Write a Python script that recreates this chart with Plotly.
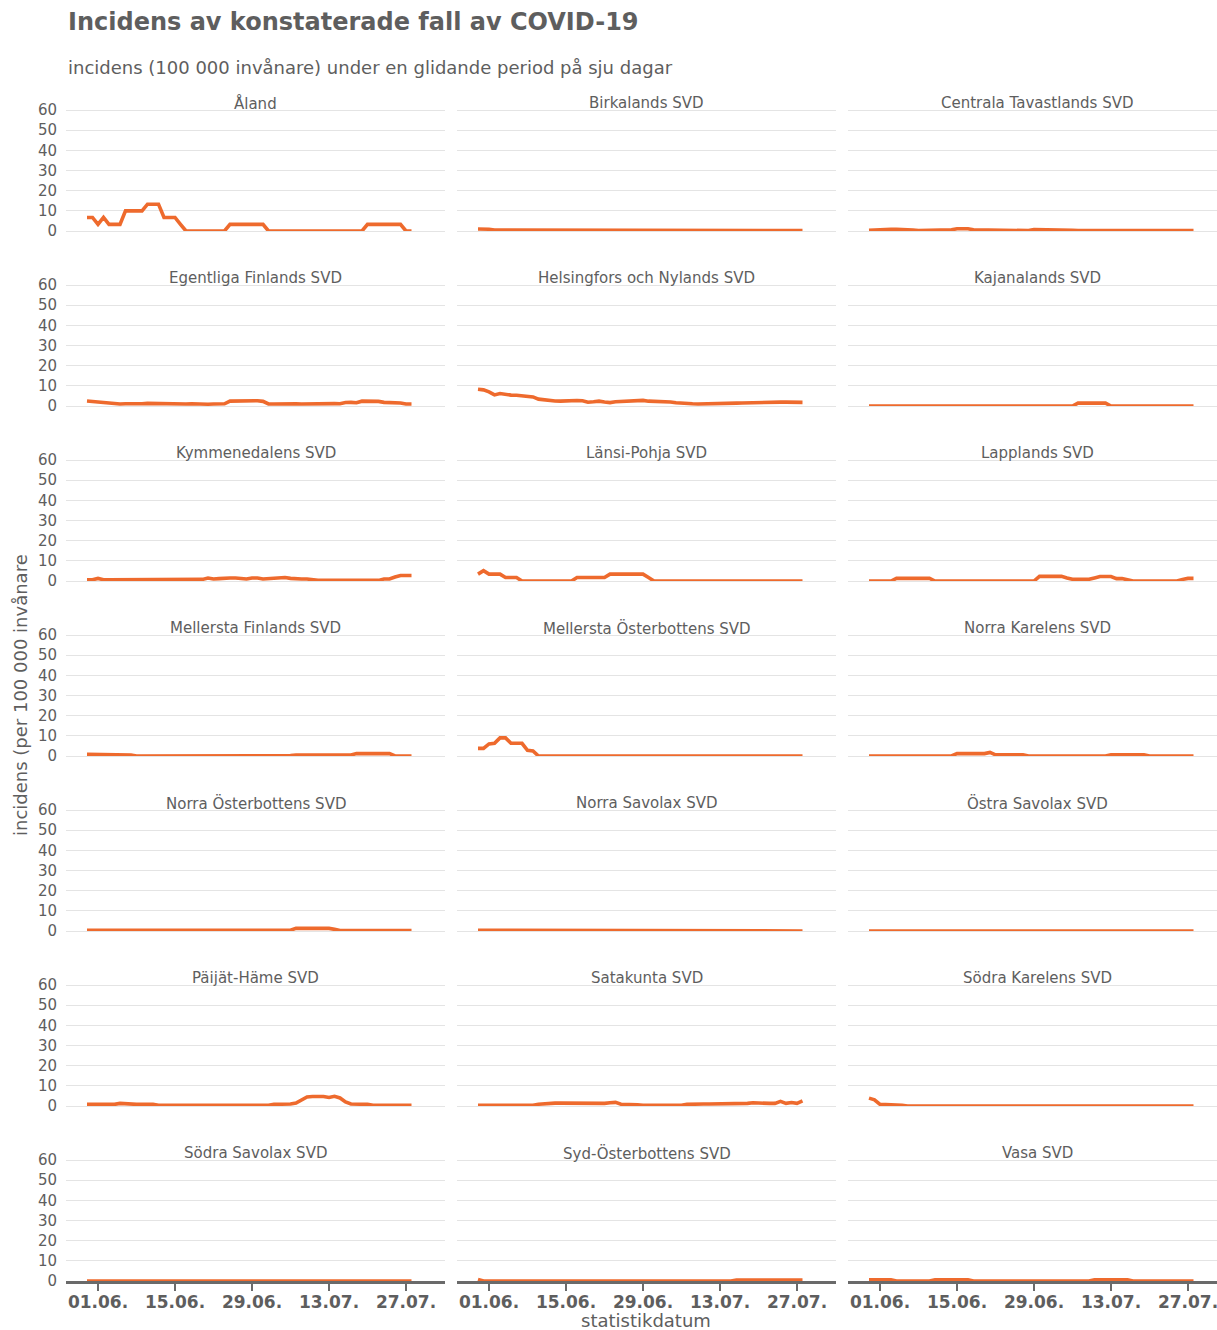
import datetime as dt
import pandas as pd
import plotly.graph_objects as go

# ---------------- data ----------------
dates = pd.date_range("2020-05-30", "2020-07-28", freq="D")

tick_dates = ["2020-06-01", "2020-06-15", "2020-06-29", "2020-07-13", "2020-07-27"]
tick_labels = ["01.06.", "15.06.", "29.06.", "13.07.", "27.07."]

aland = [6.7, 6.7, 3.3, 6.7, 3.3, 3.3, 3.3, 10, 10, 10,
         10, 13.3, 13.3, 13.3, 6.7, 6.7, 6.7, 3.3, 0, 0,
         0, 0, 0, 0, 0, 0, 3.3, 3.3, 3.3, 3.3,
         3.3, 3.3, 3.3, 0, 0, 0, 0, 0, 0, 0,
         0, 0, 0, 0, 0, 0, 0, 0, 0, 0,
         0, 3.3, 3.3, 3.3, 3.3, 3.3, 3.3, 3.3, 0, 0]
birkaland = [1.0, 1.0, 0.9, 0.5, 0.5, 0.5, 0.5, 0.5, 0.5, 0.5,
             0.6, 0.5, 0.5, 0.5, 0.5, 0.5, 0.4, 0.4, 0.2, 0.2,
             0.2, 0.2, 0.2, 0.2, 0.2, 0.2, 0.2, 0.2, 0.2, 0.2,
             0.2, 0.2, 0.2, 0.2, 0.2, 0.2, 0.2, 0.4, 0.4, 0.4,
             0.4, 0.4, 0.4, 0.4, 0.4, 0.4, 0.4, 0.2, 0.2, 0.2,
             0.2, 0.2, 0.2, 0.2, 0.2, 0.2, 0.2, 0.2, 0.2, 0.2]
centrala_tavastland = [0.3, 0.5, 0.8, 0.8, 0.8, 0.8, 0.8, 0.8, 0.5, 0.2,
                       0.2, 0.4, 0.6, 0.6, 0.6, 0.6, 1.1, 1.1, 1.1, 0.6,
                       0.6, 0.6, 0.6, 0.2, 0.2, 0.2, 0.2, 0.2, 0.2, 0.2,
                       0.7, 0.7, 0.7, 0.7, 0.7, 0.7, 0.7, 0.4, 0.2, 0.2,
                       0.2, 0.2, 0.2, 0.2, 0.2, 0.2, 0.2, 0.2, 0.2, 0.2,
                       0.2, 0.2, 0.2, 0.2, 0.2, 0.2, 0.2, 0.2, 0.2, 0.2]
egentliga_finland = [2.5, 2.2, 2.0, 1.9, 1.7, 1.1, 1.0, 1.1, 1.0, 1.2,
                     1.1, 1.3, 1.2, 1.5, 1.3, 1.2, 1.1, 1.0, 1.0, 1.1,
                     0.9, 1.0, 0.9, 1.0, 0.9, 1.1, 2.4, 2.5, 2.5, 2.4,
                     2.5, 2.6, 2.3, 1.0, 1.0, 1.1, 1.0, 1.2, 1.1, 1.0,
                     1.1, 1.2, 1.1, 1.0, 1.1, 1.2, 1.1, 1.7, 1.8, 1.6,
                     2.4, 2.5, 2.6, 2.3, 1.8, 1.7, 1.8, 1.5, 1.0, 1.0]
helsingfors_nyland = [8.3, 8.0, 7.0, 5.5, 6.2, 5.7, 5.4, 5.3, 5.1, 5.0,
                      4.5, 3.4, 3.0, 2.8, 2.5, 2.4, 2.6, 2.6, 2.7, 2.6,
                      1.9, 2.1, 2.4, 2.0, 1.7, 2.1, 2.2, 2.2, 2.2, 2.3,
                      2.8, 2.4, 2.3, 2.3, 2.3, 2.0, 1.6, 1.3, 1.2, 1.1,
                      1.0, 1.0, 1.0, 1.0, 1.1, 1.2, 1.3, 1.4, 1.5, 1.6,
                      1.7, 1.9, 1.8, 1.7, 1.8, 1.9, 1.9, 1.9, 2.0, 1.8]
kajanaland = [0, 0, 0, 0, 0, 0, 0, 0, 0, 0,
              0, 0, 0, 0, 0, 0, 0, 0, 0, 0,
              0, 0, 0, 0, 0, 0, 0, 0, 0, 0,
              0, 0, 0, 0, 0, 0, 0, 0, 1.4, 1.4,
              1.4, 1.4, 1.4, 1.4, 0, 0, 0, 0, 0, 0,
              0, 0, 0, 0, 0, 0, 0, 0, 0, 0]
kymmenedalen = [0.6, 0.6, 1.3, 0.6, 0.6, 0.6, 0.6, 0.6, 0.6, 0.6,
                0.6, 0.6, 0.6, 0.6, 0.6, 0.6, 0.8, 0.8, 0.8, 0.8,
                0.8, 0.8, 1.5, 1.0, 1.2, 1.5, 1.5, 1.5, 1.3, 1.0,
                1.5, 1.5, 1.0, 1.2, 1.7, 1.7, 1.7, 1.3, 1.0, 1.0,
                1.0, 0.6, 0.3, 0.3, 0.3, 0.3, 0.3, 0.3, 0.3, 0.3,
                0.3, 0.3, 0.3, 0.3, 1.0, 1.0, 2.0, 2.7, 2.7, 2.7]
lansi_pohja = [3.4, 5.1, 3.4, 3.4, 3.4, 1.7, 1.7, 1.7, 0, 0,
               0, 0, 0, 0, 0, 0, 0, 0, 1.7, 1.7,
               1.7, 1.7, 1.7, 1.7, 3.4, 3.4, 3.4, 3.4, 3.4, 3.4,
               3.4, 1.7, 0, 0, 0, 0, 0, 0, 0, 0,
               0, 0, 0, 0, 0, 0, 0, 0, 0, 0,
               0, 0, 0, 0, 0, 0, 0, 0, 0, 0]
lappland = [0, 0, 0, 0, 0, 1.3, 1.3, 1.3, 1.3, 1.3,
            1.3, 1.3, 0, 0, 0, 0, 0, 0, 0, 0,
            0, 0, 0, 0, 0, 0, 0, 0, 0, 0,
            0, 2.3, 2.3, 2.3, 2.3, 2.3, 1.5, 0.85, 0.85, 0.85,
            0.85, 1.5, 2.2, 2.2, 2.2, 1.2, 1.2, 0.6, 0, 0,
            0, 0, 0, 0, 0, 0, 0, 0.8, 1.3, 1.3]
mellersta_finland = [0.8, 0.8, 0.8, 0.8, 0.8, 0.8, 0.8, 0.8, 0.5, 0,
                     0, 0, 0, 0, 0, 0, 0, 0, 0, 0,
                     0, 0, 0, 0, 0, 0, 0, 0, 0, 0,
                     0, 0.4, 0.4, 0.4, 0.4, 0.4, 0.4, 0.2, 0.5, 0.5,
                     0.5, 0.5, 0.5, 0.5, 0.5, 0.5, 0.5, 0.2, 0.5, 1.2,
                     1.2, 1.2, 1.2, 1.2, 1.2, 1.2, 0, 0, 0, 0]
mellersta_osterbotten = [3.8, 3.8, 6.0, 6.3, 9.0, 9.0, 6.3, 6.3, 6.3, 2.8,
                         2.5, 0, 0, 0, 0, 0, 0, 0, 0, 0,
                         0, 0, 0, 0, 0, 0, 0, 0, 0, 0,
                         0, 0, 0, 0, 0, 0, 0, 0, 0, 0,
                         0, 0, 0, 0, 0, 0, 0, 0, 0, 0,
                         0, 0, 0, 0, 0, 0, 0, 0, 0, 0]
norra_karelen = [0, 0, 0, 0, 0, 0, 0, 0, 0, 0,
                 0, 0, 0, 0, 0, 0, 1.2, 1.2, 1.2, 1.2,
                 1.2, 1.2, 1.8, 0.6, 0.6, 0.6, 0.6, 0.6, 0.6, 0,
                 0, 0, 0, 0, 0, 0, 0, 0, 0, 0,
                 0, 0, 0, 0, 0.6, 0.6, 0.6, 0.6, 0.6, 0.6,
                 0.6, 0, 0, 0, 0, 0, 0, 0, 0, 0]
norra_osterbotten = [0.3, 0.3, 0.3, 0.3, 0.3, 0.3, 0.1, 0.1, 0.1, 0.1,
                     0.3, 0.3, 0.3, 0.3, 0.3, 0.3, 0.3, 0.3, 0.3, 0.3,
                     0.3, 0.3, 0.3, 0.3, 0.3, 0.3, 0.3, 0.3, 0.3, 0.3,
                     0.3, 0.1, 0.1, 0.1, 0.1, 0.1, 0.2, 0.4, 1.3, 1.3,
                     1.3, 1.3, 1.3, 1.3, 1.3, 0.8, 0.2, 0.2, 0.2, 0.2,
                     0.2, 0.2, 0.4, 0.4, 0.4, 0.4, 0.4, 0.4, 0.4, 0.2]
norra_savolax = [0.4, 0.4, 0.4, 0.4, 0.4, 0.4, 0, 0, 0, 0,
                 0, 0, 0, 0, 0, 0, 0, 0, 0, 0,
                 0, 0, 0, 0, 0, 0, 0, 0, 0, 0,
                 0, 0, 0, 0, 0, 0, 0, 0, 0, 0,
                 0, 0, 0, 0, 0, 0, 0, 0, 0, 0,
                 0, 0, 0, 0, 0, 0, 0, 0, 0, 0]
ostra_savolax = [0, 0, 0, 0, 0, 0, 0, 0, 0, 0,
                 0, 0, 0, 0, 0, 0, 0, 0, 0, 0,
                 0, 0, 0, 0, 0, 0, 0, 0, 0, 0,
                 0, 0, 0, 0, 0, 0, 0, 0, 0, 0,
                 0, 0, 0, 0, 0, 0, 0, 0, 0, 0,
                 0, 0, 0, 0, 0, 0, 0, 0, 0, 0]
paijat_hame = [0.8, 1.0, 0.8, 0.8, 0.8, 0.8, 1.3, 1.0, 0.8, 0.8,
               0.8, 0.8, 0.8, 0.3, 0.3, 0.3, 0.3, 0.3, 0.3, 0.3,
               0.3, 0.3, 0.3, 0.3, 0.3, 0.3, 0.3, 0.3, 0.3, 0.3,
               0.3, 0.3, 0.3, 0.3, 0.8, 0.8, 0.8, 1.0, 1.5, 2.8,
               4.5, 4.7, 4.7, 4.7, 4.2, 4.8, 4.0, 2.0, 1.0, 1.0,
               1.0, 0.8, 0.3, 0.3, 0.3, 0.3, 0.3, 0.3, 0.3, 0.3]
satakunta = [0.3, 0.3, 0.3, 0.3, 0.3, 0.3, 0.3, 0.3, 0.3, 0.3,
             0.4, 0.9, 1.2, 1.4, 1.4, 1.4, 1.4, 1.4, 1.4, 1.2,
             1.3, 1.0, 1.2, 1.3, 1.6, 1.8, 0.9, 0.9, 0.8, 0.6,
             0.4, 0.3, 0.3, 0.3, 0.3, 0.3, 0.3, 0.3, 0.8, 1.0,
             1.0, 1.0, 1.0, 1.0, 1.0, 1.0, 1.0, 1.0, 1.1, 1.3,
             1.6, 1.4, 1.3, 1.3, 1.3, 2.3, 1.3, 1.7, 1.3, 2.5]
sodra_karelen = [3.9, 3.1, 0.8, 0.8, 0.8, 0.8, 0.4, 0, 0, 0,
                 0, 0, 0, 0, 0, 0, 0, 0, 0, 0,
                 0, 0, 0, 0, 0, 0, 0, 0, 0, 0,
                 0, 0, 0, 0, 0, 0, 0, 0, 0, 0,
                 0, 0, 0, 0, 0, 0, 0, 0, 0, 0,
                 0, 0, 0, 0, 0, 0, 0, 0, 0, 0]
sodra_savolax = [0, 0, 0, 0, 0, 0, 0, 0, 0, 0,
                 0, 0, 0, 0, 0, 0, 0, 0, 0, 0,
                 0, 0, 0, 0, 0, 0, 0, 0, 0, 0,
                 0, 0, 0, 0, 0, 0, 0, 0, 0, 0,
                 0, 0, 0, 0, 0, 0, 0, 0, 0, 0,
                 0, 0, 0, 0, 0, 0, 0, 0, 0, 0]
syd_osterbotten = [0.8, 0, 0, 0, 0, 0, 0, 0, 0, 0,
                   0, 0, 0, 0, 0, 0, 0, 0, 0, 0,
                   0, 0, 0, 0, 0, 0, 0, 0, 0, 0,
                   0, 0, 0, 0, 0, 0, 0, 0, 0, 0,
                   0, 0, 0, 0, 0, 0, 0, 0.5, 0.5, 0.5,
                   0.5, 0.5, 0.5, 0.9, 0.5, 0.5, 0.5, 0.5, 0.5, 0.5]
vasa = [0.6, 0.6, 0.6, 0.6, 0.6, 0, 0, 0, 0, 0,
        0, 0, 0.6, 0.6, 0.6, 0.6, 0.6, 0.6, 0.6, 0,
        0, 0, 0, 0, 0, 0, 0, 0, 0, 0,
        0, 0, 0, 0, 0, 0, 0, 0, 0, 0,
        0, 0.6, 0.6, 0.6, 0.6, 0.6, 0.6, 0.6, 0, 0,
        0, 0, 0, 0, 0, 0, 0, 0, 0, 0]

panel_titles = [
    "Åland", "Birkalands SVD", "Centrala Tavastlands SVD",
    "Egentliga Finlands SVD", "Helsingfors och Nylands SVD", "Kajanalands SVD",
    "Kymmenedalens SVD", "Länsi-Pohja SVD", "Lapplands SVD",
    "Mellersta Finlands SVD", "Mellersta Österbottens SVD", "Norra Karelens SVD",
    "Norra Österbottens SVD", "Norra Savolax SVD", "Östra Savolax SVD",
    "Päijät-Häme SVD", "Satakunta SVD", "Södra Karelens SVD",
    "Södra Savolax SVD", "Syd-Österbottens SVD", "Vasa SVD",
]
panel_values = [
    aland, birkaland, centrala_tavastland,
    egentliga_finland, helsingfors_nyland, kajanaland,
    kymmenedalen, lansi_pohja, lappland,
    mellersta_finland, mellersta_osterbotten, norra_karelen,
    norra_osterbotten, norra_savolax, ostra_savolax,
    paijat_hame, satakunta, sodra_karelen,
    sodra_savolax, syd_osterbotten, vasa,
]
y_ticks = [0, 10, 20, 30, 40, 50, 60]

# ---------------- layout geometry (page pixels; body margin removed) ----------------
W, H = 1217, 1330
ML = 66
PLOT_W = W - ML
COL_PITCH = 391
COL_W = 379
ROW_ZERO0 = 231
ROW_PITCH = 175
PX_PER_UNIT = 121 / 60.0
Y_MAX = 61
PANEL_H = Y_MAX * PX_PER_UNIT
PX_PER_DAY = 5.5
ref_day = dt.datetime(2020, 6, 1)
ref_px_in_col = 98 - 66   # 01.06. position relative to column left edge

LINE_COLOR = "#EE6A2D"
GRID_COLOR = "#E4E4E4"
TEXT_COLOR = "#5E5E5E"
FONT = "DejaVu Sans"

fig = go.Figure()
annotations = []

for k, (title, vals) in enumerate(zip(panel_titles, panel_values)):
    r, c = divmod(k, 3)
    idx = k + 1
    xname = "xaxis" if idx == 1 else f"xaxis{idx}"
    yname = "yaxis" if idx == 1 else f"yaxis{idx}"
    xref = "x" if idx == 1 else f"x{idx}"
    yref = "y" if idx == 1 else f"y{idx}"

    left_px = COL_PITCH * c
    right_px = min(left_px + COL_W, PLOT_W)
    width_px = right_px - left_px
    x_start = ref_day - dt.timedelta(days=ref_px_in_col / PX_PER_DAY)
    x_end = x_start + dt.timedelta(days=width_px / PX_PER_DAY)

    zero_px = ROW_ZERO0 + ROW_PITCH * r
    top_px = zero_px - PANEL_H

    fig.add_trace(go.Scatter(
        x=dates, y=vals, mode="lines",
        line=dict(color=LINE_COLOR, width=3.6),
        xaxis=xref, yaxis=yref, showlegend=False,
        hovertemplate="%{x|%d.%m.}: %{y}<extra>" + title + "</extra>",
    ))

    bottom = (r == 6)
    fig.layout[xname] = dict(
        domain=[left_px / PLOT_W, right_px / PLOT_W],
        range=[x_start, x_end],
        anchor=yref,
        type="date",
        showgrid=False,
        zeroline=False,
        showline=bottom,
        linecolor="#6A6A6A",
        linewidth=3,
        ticks="outside" if bottom else "",
        ticklen=7,
        tickwidth=1.5,
        tickcolor="#6A6A6A",
        showticklabels=bottom,
        tickvals=tick_dates,
        ticktext=tick_labels,
        ticklabelstandoff=-3,
        ticklabeloverflow="allow",
        tickfont=dict(family=FONT, size=17, color=TEXT_COLOR, weight="bold"),
        automargin=False,
        fixedrange=True,
    )
    fig.layout[yname] = dict(
        domain=[1 - zero_px / H, 1 - top_px / H],
        range=[0, Y_MAX],
        anchor=xref,
        showgrid=True,
        gridcolor=GRID_COLOR,
        gridwidth=1.4,
        zeroline=not bottom,
        zerolinecolor=GRID_COLOR,
        zerolinewidth=1.4,
        showline=False,
        tickvals=y_ticks,
        ticks="",
        showticklabels=(c == 0),
        ticklabelstandoff=8,
        tickfont=dict(family=FONT, size=15, color=TEXT_COLOR),
        automargin=False,
        fixedrange=True,
    )

    # strip title, centred on the full (unclipped) panel width
    center_px = left_px + COL_W / 2
    annotations.append(dict(
        text=title, xref="paper", yref="paper",
        x=center_px / PLOT_W, y=1 - (zero_px - 128) / H,
        xanchor="center", yanchor="middle", showarrow=False,
        font=dict(family=FONT, size=15, color=TEXT_COLOR),
    ))

annotations += [
    dict(text="<b>Incidens av konstaterade fall av COVID-19</b>",
         xref="paper", yref="paper", x=0, y=1 - 22 / H,
         xanchor="left", yanchor="middle", showarrow=False,
         font=dict(family=FONT, size=24, color=TEXT_COLOR)),
    dict(text="incidens (100 000 invånare) under en glidande period på sju dagar",
         xref="paper", yref="paper", x=0, y=1 - 68 / H,
         xanchor="left", yanchor="middle", showarrow=False,
         font=dict(family=FONT, size=18, color=TEXT_COLOR)),
    dict(text="incidens (per 100 000 invånare",
         xref="paper", yref="paper", x=(20 - ML) / PLOT_W, y=1 - 695 / H,
         xanchor="center", yanchor="middle", textangle=-90, showarrow=False,
         font=dict(family=FONT, size=18, color=TEXT_COLOR)),
    dict(text="statistikdatum",
         xref="paper", yref="paper", x=(646 - ML) / PLOT_W, y=1 - 1320 / H,
         xanchor="center", yanchor="middle", showarrow=False,
         font=dict(family=FONT, size=18, color=TEXT_COLOR)),
]

fig.update_layout(
    width=W, height=H,
    margin=dict(l=ML, r=0, t=0, b=0),
    paper_bgcolor="white", plot_bgcolor="white",
    font=dict(family=FONT, color=TEXT_COLOR),
    annotations=annotations,
    showlegend=False,
)

fig.write_html(
    "out.html",
    config={"displayModeBar": False},
    post_script="document.body.style.margin='0';document.body.style.overflow='hidden';",
)
